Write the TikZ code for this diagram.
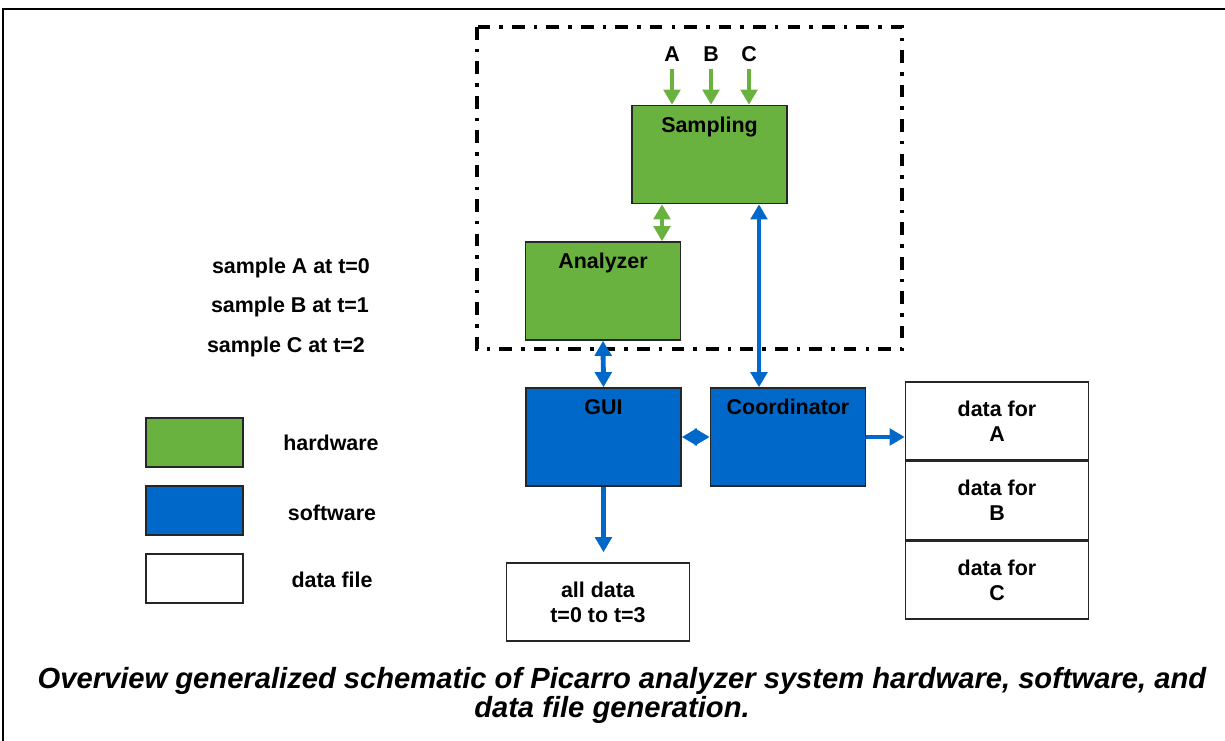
\documentclass[tikz,border=0pt]{standalone}
\usepackage{fontspec}
\setmainfont{Liberation Sans}
\usetikzlibrary{arrows.meta,positioning}

\definecolor{hwgreen}{HTML}{6AB23F}
\definecolor{swblue}{HTML}{0068C8}

\tikzset{
  lbl/.style={font=\bfseries\fontsize{12.2}{14.2}\selectfont, inner sep=0pt},
  box/.style={draw=black!85, line width=0.9pt, minimum width=3.1cm, minimum height=1.96cm, inner sep=0pt},
  hw/.style={box, fill=hwgreen},
  sw/.style={box, fill=swblue},
  datafile/.style={lbl, draw=black!85, line width=0.9pt, fill=white, align=center, minimum width=3.66cm, minimum height=1.56cm},
  keybox/.style={draw=black!85, line width=0.9pt, minimum width=1.94cm, minimum height=0.98cm, inner sep=0pt},
  boxtitle/.style={lbl, anchor=north, yshift=-6.6pt},
  head/.style={-{Triangle[length=8.6pt,width=9.4pt]}},
  heads/.style={{Triangle[length=8.6pt,width=9.4pt]}-{Triangle[length=8.6pt,width=9.4pt]}},
  garrow/.style={hwgreen, line width=2.8pt},
  barrow/.style={swblue, line width=2.8pt},
  caption/.style={font=\bfseries\itshape\fontsize{16.6}{17}\selectfont, inner sep=0pt, anchor=base}
}

\begin{document}
\begin{tikzpicture}[x=0.02cm, y=-0.02cm]
  \useasboundingbox (0,0) rectangle (1225,741);

  % outer frame
  \draw[line width=1.2pt] (1225,9) -- (3,9) -- (3,741);

  % analyzer system boundary
  \draw[line width=2.1pt, dash pattern=on 7.2pt off 5.2pt on 2pt off 5.2pt]
    (477,27) rectangle (902,349);

  % hardware
  \node[hw, label={[boxtitle]north:Sampling}] (sampling) at (709.5,154.5) {};
  \node[hw, label={[boxtitle]north:Analyzer}] (analyzer) at (603,291) {};

  % software
  \node[sw, label={[boxtitle]north:GUI}] (gui) at (603.5,437) {};
  \node[sw, label={[boxtitle]north:Coordinator}] (coordinator) at (788,437) {};

  % data files
  \node[datafile] (alldata) at (598,602) {all data\\t=0 to t=3};
  \node[datafile] (fileA) at (997,421) {data for\\A};
  \node[datafile, below=0pt of fileA] (fileB) {data for\\B};
  \node[datafile, below=0pt of fileB] (fileC) {data for\\C};

  % sample inlets
  \node[lbl] (inA) at (672,54) {A};
  \node[lbl] (inB) at (711,54) {B};
  \node[lbl] (inC) at (749,54) {C};
  \foreach \s in {A,B,C}
    \draw[garrow, head] ([yshift=-4pt]in\s.south) -- (in\s |- sampling.north);

  % sequence
  \node[lbl] (seqA) at (291,268) {sample A at t=0};
  \node[lbl] (seqB) at (290,307) {sample B at t=1};
  \node[lbl] (seqC) at (286,347) {sample C at t=2};

  % legend
  \node[keybox, fill=hwgreen] (keyhw) at (194.5,442.5) {};
  \node[keybox, fill=swblue] (keysw) at (194.5,510.5) {};
  \node[keybox, fill=white] (keyfile) at (194.5,578.5) {};
  \node[lbl] (keyhwtxt) at (331,443) {hardware};
  \node[lbl] (keyswtxt) at (332,513) {software};
  \node[lbl] (keyfiletxt) at (332,580) {data file};

  % connections
  \coordinate (sa) at (662,0);
  \coordinate (sc) at (759,0);
  \draw[garrow, heads] (sa |- sampling.south) -- (sa |- analyzer.north);
  \draw[barrow, heads] (sc |- sampling.south) -- (sc |- coordinator.north);
  \draw[barrow, heads] (analyzer.south) -- (gui.north);
  \draw[barrow, heads] (gui.east) -- (coordinator.west);
  \draw[barrow, head] (coordinator.east) -- (coordinator.east -| fileA.west);
  \draw[barrow, head, shorten >=5.7pt] (gui.south) -- (gui.south |- alldata.north);

  % caption
  \node[caption] (cap1) at (622,688) {Overview generalized schematic of Picarro analyzer system hardware, software, and};
  \node[caption] (cap2) at (612,717) {data file generation.};
\end{tikzpicture}
\end{document}
